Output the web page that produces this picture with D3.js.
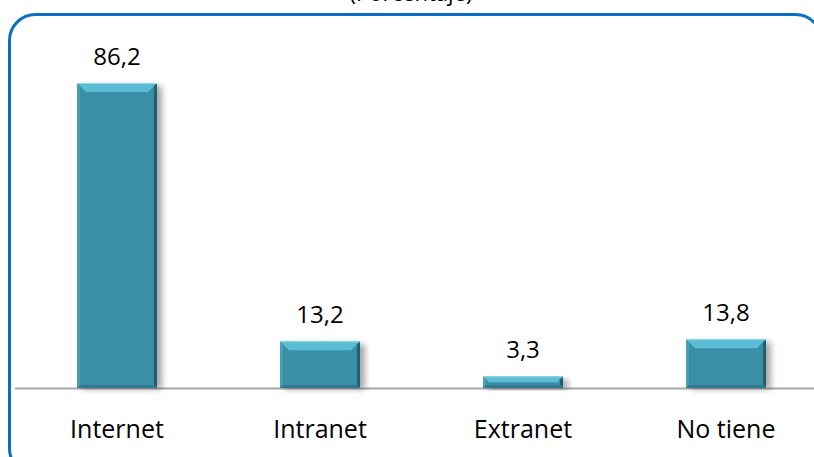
<!DOCTYPE html>
<html>
<head>
<meta charset="utf-8">
<script src="https://cdn.jsdelivr.net/npm/d3@7"></script>
<style>
  body { margin: 0; background: #fff; }
  svg { display: block; }
</style>
</head>
<body>
<svg width="814" height="457"></svg>
<script>
var categories = ["Internet", "Intranet", "Extranet", "No tiene"];
var values = [86.2, 13.2, 3.3, 13.8];
var valueLabels = ["86,2", "13,2", "3,3", "13,8"];
var subtitle = "(Porcentaje)";

var svg = d3.select("svg"),
    font = "'Open Sans', 'Noto Sans', sans-serif";

// plot area
var left = 15.5, right = 827.5, baseY = 388, topY = 83;

var x = d3.scaleBand().domain(categories).range([left, right]).paddingInner(0.606).paddingOuter(0.303);
var y = d3.scaleLinear().domain([0, 86.2]).range([baseY, topY]);

var defs = svg.append("defs");
var blur = defs.append("filter").attr("id", "shadow").attr("x", "-50%").attr("y", "-20%").attr("width", "200%").attr("height", "140%");
blur.append("feGaussianBlur").attr("stdDeviation", 3);

// frame
svg.append("rect")
    .attr("x", 9.5).attr("y", 14.5)
    .attr("width", 812).attr("height", 460)
    .attr("rx", 26).attr("ry", 26)
    .attr("fill", "none")
    .attr("stroke", "#0a70c4")
    .attr("stroke-width", 3);

// subtitle, cut by the top edge as in the original
svg.append("text")
    .attr("x", 411).attr("y", 1)
    .attr("text-anchor", "middle")
    .style("font", "22px " + font)
    .attr("fill", "#000")
    .text(subtitle);

// axis line
svg.append("line")
    .attr("x1", 15).attr("x2", 814)
    .attr("y1", baseY + 0.5).attr("y2", baseY + 0.5)
    .attr("stroke", "#a6a6a6").attr("stroke-width", 2);

var bar = svg.selectAll(".bar")
    .data(categories.map(function(c, i) { return {cat: c, v: values[i], label: valueLabels[i]}; }))
    .enter().append("g").attr("class", "bar");

// shadow
bar.append("rect")
    .attr("x", function(d) { return x(d.cat) + 5; })
    .attr("y", function(d) { return y(d.v) + 3; })
    .attr("width", x.bandwidth())
    .attr("height", function(d) { return baseY - y(d.v) - 2; })
    .attr("fill", "#000").attr("opacity", 0.35)
    .attr("filter", "url(#shadow)");

// main face
bar.append("rect")
    .attr("x", function(d) { return x(d.cat); })
    .attr("y", function(d) { return y(d.v); })
    .attr("width", x.bandwidth())
    .attr("height", function(d) { return baseY - y(d.v); })
    .attr("fill", "#3a8ea6");

// bevels
function bevel(d, side) {
    var x0 = x(d.cat), x1 = x0 + x.bandwidth(), y0 = y(d.v), y1 = baseY;
    var b = Math.min(9, (y1 - y0) / 2);
    if (side === "top") return [[x0, y0], [x1, y0], [x1 - b, y0 + b], [x0 + b, y0 + b]];
    if (side === "right") return [[x1, y0], [x1, y1], [x1 - 3, y1 - 3], [x1 - 3, y0 + 3]];
    if (side === "left") return [[x0, y0], [x0 + 3, y0 + 3], [x0 + 3, y1 - 3], [x0, y1]];
    return [[x0, y1], [x1, y1], [x1 - 3, y1 - 3], [x0 + 3, y1 - 3]];
}
var bevels = [["top", "#5bbcd5"], ["right", "#225f70"], ["left", "#4a9db4"], ["bottom", "#2f7a8e"]];
bevels.forEach(function(bv) {
    bar.append("polygon")
        .attr("points", function(d) { return bevel(d, bv[0]).join(" "); })
        .attr("fill", bv[1]);
});
bar.append("line")
    .attr("x1", function(d) { return x(d.cat); })
    .attr("x2", function(d) { return x(d.cat) + x.bandwidth(); })
    .attr("y1", function(d) { return y(d.v) + 0.5; })
    .attr("y2", function(d) { return y(d.v) + 0.5; })
    .attr("stroke", "#8fdbee").attr("stroke-width", 1);

// value labels
bar.append("text")
    .attr("x", function(d) { return x(d.cat) + x.bandwidth() / 2; })
    .attr("y", function(d) { return y(d.v) - 18; })
    .attr("text-anchor", "middle")
    .style("font", "24px " + font)
    .attr("fill", "#000")
    .text(function(d) { return d.label; });

// category labels
bar.append("text")
    .attr("x", function(d) { return x(d.cat) + x.bandwidth() / 2; })
    .attr("y", 438)
    .attr("text-anchor", "middle")
    .style("font", "25px " + font)
    .attr("fill", "#000")
    .text(function(d) { return d.cat; });
</script>
</body>
</html>
